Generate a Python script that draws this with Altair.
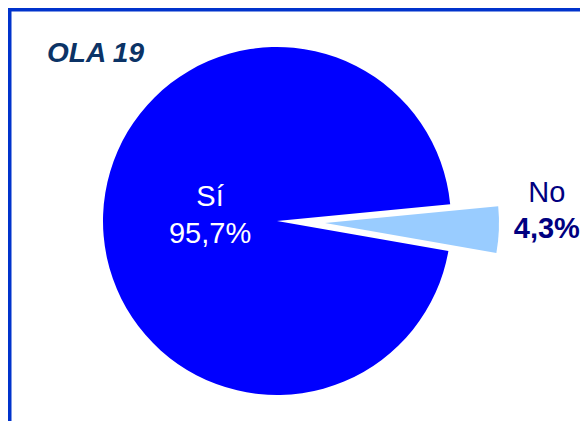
import math
import altair as alt
import pandas as pd

categories = ["No", "Sí"]
values = [4.3, 95.7]
pct_labels = ["4,3%", "95,7%"]
colors = ["#99ccff", "#0000ff"]
title_text = "OLA 19"

df = pd.DataFrame({
    "cat": categories,
    "val": values,
    "pct": pct_labels,
    "ord": list(range(len(categories))),
})

total = sum(values)
start = math.radians(84.46)
theta_scale = alt.Scale(domain=[0, total], range=[start, start + 2 * math.pi])

W, H = 572, 413
CX, CY = 269, 213
R = 174
FONT = "Liberation Sans"

base = (
    alt.Chart(df)
    .transform_stack(stack="val", as_=["v0", "v1"], groupby=[], sort=[alt.SortField("ord")])
    .transform_calculate(mid="(datum.v0 + datum.v1) / 2")
)

big = base.transform_filter(alt.datum.cat == "Sí").mark_arc(radius=R, color=colors[1]).encode(
    theta=alt.Theta("v0:Q", stack=None, scale=theta_scale),
    theta2=alt.Theta2("v1:Q"),
    x=alt.value(CX),
    y=alt.value(CY),
)

small = base.transform_filter(alt.datum.cat == "No").mark_arc(radius=R, color=colors[0]).encode(
    theta=alt.Theta("v0:Q", stack=None, scale=theta_scale),
    theta2=alt.Theta2("v1:Q"),
    x=alt.value(CX + 48),
    y=alt.value(CY + 2),
)

def label(cat, field, radius, dy, color, weight):
    return base.transform_filter(alt.datum.cat == cat).mark_text(
        radius=radius, dy=dy, font=FONT, fontSize=29, fontWeight=weight,
        color=color, align="center", baseline="middle",
    ).encode(
        theta=alt.Theta("mid:Q", stack=None, scale=theta_scale),
        text=alt.Text(f"{field}:N"),
        x=alt.value(CX),
        y=alt.value(CY),
    )

si_name = label("Sí", "cat", 67, -21, "white", "normal")
si_pct = label("Sí", "pct", 67, 15.6, "white", "normal")
no_name = label("No", "cat", 270, -38.6, "#000080", "normal")
no_pct = label("No", "pct", 270, -2.6, "#000080", "bold")

title = alt.Chart(pd.DataFrame({"t": [title_text]})).mark_text(
    font=FONT, fontSize=28, fontWeight="bold", fontStyle="italic",
    color="#0b3366", align="left", baseline="alphabetic",
).encode(text="t:N", x=alt.value(39), y=alt.value(54))

frame_top = alt.Chart(pd.DataFrame({"a": [0]})).mark_rule(color="#0033cc", strokeWidth=5).encode(
    x=alt.value(0), x2=alt.value(W), y=alt.value(1)
)
frame_left = alt.Chart(pd.DataFrame({"a": [0]})).mark_rule(color="#0033cc", strokeWidth=5).encode(
    x=alt.value(1), y=alt.value(0), y2=alt.value(H)
)

chart = (
    alt.layer(big, small, si_name, si_pct, no_name, no_pct, title, frame_top, frame_left)
    .properties(width=W, height=H, padding=0, autosize=alt.AutoSizeParams(type="none"),
                background="white")
    .configure_view(stroke="transparent")
)

chart.save("out.html", embed_options={"renderer": "svg", "actions": False})
